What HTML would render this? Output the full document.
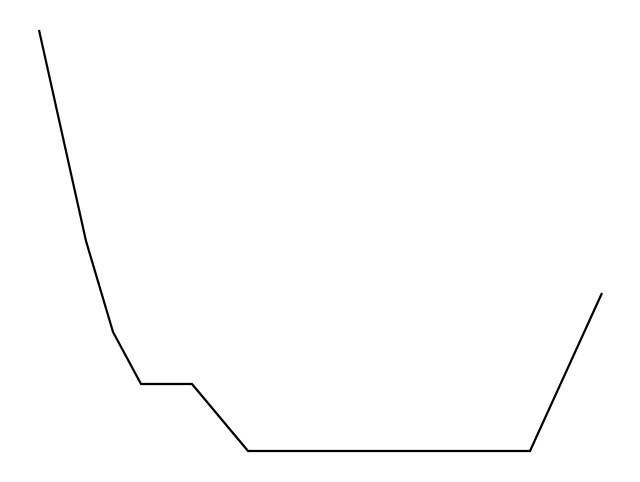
<!DOCTYPE html>
<html>
<head>
<meta charset="utf-8">
<style>
  html, body { margin: 0; padding: 0; background: #ffffff; }
  body { width: 640px; height: 482px; overflow: hidden; font-family: "Liberation Sans", sans-serif; }
  svg { display: block; }
</style>
</head>
<body>
<svg id="chart" width="640" height="482" viewBox="0 0 640 482">
  <g id="plot"></g>
</svg>
<script>
const xValues = [0, 47, 74, 102, 153, 209, 491, 563];
const yValues = [421, 210, 119, 67, 67, 0, 0, 158];

const xMin = 0, xMax = 563, yMin = 0, yMax = 421;
const plotLeft = 39, plotRight = 602, plotTop = 30, plotBottom = 451;

function xScale(v) { return plotLeft + (v - xMin) / (xMax - xMin) * (plotRight - plotLeft); }
function yScale(v) { return plotBottom - (v - yMin) / (yMax - yMin) * (plotBottom - plotTop); }

const plot = document.getElementById('plot');
const pts = xValues.map((x, i) => xScale(x).toFixed(2) + ',' + yScale(yValues[i]).toFixed(2)).join(' ');
const line = document.createElementNS('http://www.w3.org/2000/svg', 'polyline');
line.setAttribute('points', pts);
line.setAttribute('fill', 'none');
line.setAttribute('stroke', '#000000');
line.setAttribute('stroke-width', '2.2');
line.setAttribute('stroke-linejoin', 'miter');


plot.appendChild(line);
</script>
</body>
</html>
